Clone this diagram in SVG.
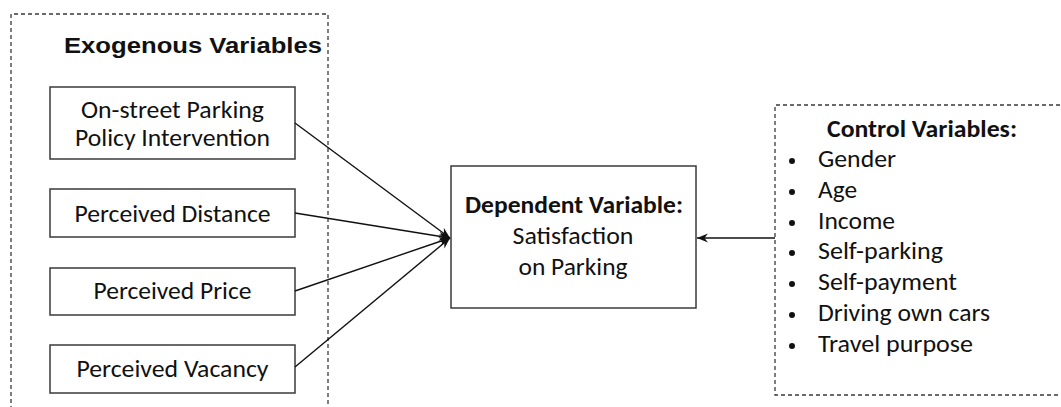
<svg xmlns="http://www.w3.org/2000/svg" width="1061" height="407" viewBox="0 0 1061 407">
<style>
.bg{fill:#ffffff}
.dash{fill:none;stroke:#3a3a3a;stroke-width:1.3;stroke-dasharray:4 3}
.box{fill:#ffffff;stroke:#3a3a3a;stroke-width:1.5}
.t{font-family:Carlito,Lato,"Liberation Sans",sans-serif;font-size:25px;fill:#111111}
.tb{font-family:Carlito,Lato,"Liberation Sans",sans-serif;font-size:25px;font-weight:bold;fill:#111111}
.title{font-family:"Liberation Sans",Arial,sans-serif;font-size:22px;font-weight:bold;fill:#111111}
.c{text-anchor:middle}
.edge{fill:none;stroke:#111111;stroke-width:1.4}
.bul{fill:#111111}
</style>
<defs>
<marker id="ah" markerWidth="12" markerHeight="10" refX="11" refY="4.5" orient="auto" markerUnits="userSpaceOnUse">
<path d="M0,0 L11,4.5 L0,9 L3.5,4.5 z" fill="#111111"/>
</marker>
</defs>
<rect class="bg" x="0" y="0" width="1061" height="407"/>
<g id="exogenous-group">
<path class="dash" d="M11,410 V14 H328 V410"/>
<text class="title" x="64" y="53" textLength="258" lengthAdjust="spacingAndGlyphs">Exogenous Variables</text>
</g>
<g id="control-group">
<path class="dash" d="M1065,395 H775 V105 H1065"/>
</g>
<g id="n-onstreet">
<rect class="box" x="50" y="87" width="245" height="72"/>
<text class="t c" x="172.5" y="118" textLength="183" lengthAdjust="spacingAndGlyphs">On-street Parking</text>
<text class="t c" x="172.5" y="146" textLength="195" lengthAdjust="spacingAndGlyphs">Policy Intervention</text>
</g>
<g id="n-distance">
<rect class="box" x="50" y="189" width="245" height="48"/>
<text class="t c" x="172.5" y="222" textLength="196" lengthAdjust="spacingAndGlyphs">Perceived Distance</text>
</g>
<g id="n-price">
<rect class="box" x="50" y="268" width="245" height="47"/>
<text class="t c" x="172.5" y="299" textLength="158" lengthAdjust="spacingAndGlyphs">Perceived Price</text>
</g>
<g id="n-vacancy">
<rect class="box" x="50" y="345" width="245" height="48"/>
<text class="t c" x="172.5" y="377" textLength="192" lengthAdjust="spacingAndGlyphs">Perceived Vacancy</text>
</g>
<g id="n-dependent">
<rect class="box" x="451" y="166" width="245" height="142"/>
<text class="tb c" x="574" y="213" textLength="218" lengthAdjust="spacingAndGlyphs">Dependent Variable:</text>
<text class="t c" x="573" y="244" textLength="121" lengthAdjust="spacingAndGlyphs">Satisfaction</text>
<text class="t c" x="573" y="275" textLength="109" lengthAdjust="spacingAndGlyphs">on Parking</text>
</g>
<g id="n-control">
<text class="tb" x="827" y="137" textLength="190" lengthAdjust="spacingAndGlyphs">Control Variables:</text>
<circle class="bul" cx="792" cy="161" r="3"/>
<text class="t" x="818" y="167" textLength="78" lengthAdjust="spacingAndGlyphs">Gender</text>
<circle class="bul" cx="792" cy="192" r="3"/>
<text class="t" x="818" y="198" textLength="39" lengthAdjust="spacingAndGlyphs">Age</text>
<circle class="bul" cx="792" cy="223" r="3"/>
<text class="t" x="818" y="229" textLength="77" lengthAdjust="spacingAndGlyphs">Income</text>
<circle class="bul" cx="792" cy="253" r="3"/>
<text class="t" x="818" y="259" textLength="125" lengthAdjust="spacingAndGlyphs">Self-parking</text>
<circle class="bul" cx="792" cy="284" r="3"/>
<text class="t" x="818" y="290" textLength="139" lengthAdjust="spacingAndGlyphs">Self-payment</text>
<circle class="bul" cx="792" cy="315" r="3"/>
<text class="t" x="818" y="321" textLength="172" lengthAdjust="spacingAndGlyphs">Driving own cars</text>
<circle class="bul" cx="792" cy="346" r="3"/>
<text class="t" x="818" y="352" textLength="155" lengthAdjust="spacingAndGlyphs">Travel purpose</text>
</g>
<g id="connectors">
<line class="edge" x1="295" y1="123" x2="450" y2="238" marker-end="url(#ah)"/>
<line class="edge" x1="295" y1="213" x2="450" y2="238" marker-end="url(#ah)"/>
<line class="edge" x1="295" y1="291" x2="450" y2="238" marker-end="url(#ah)"/>
<line class="edge" x1="295" y1="367" x2="450" y2="238" marker-end="url(#ah)"/>
<line class="edge" x1="775" y1="238" x2="697" y2="238" marker-end="url(#ah)"/>
</g>
</svg>
